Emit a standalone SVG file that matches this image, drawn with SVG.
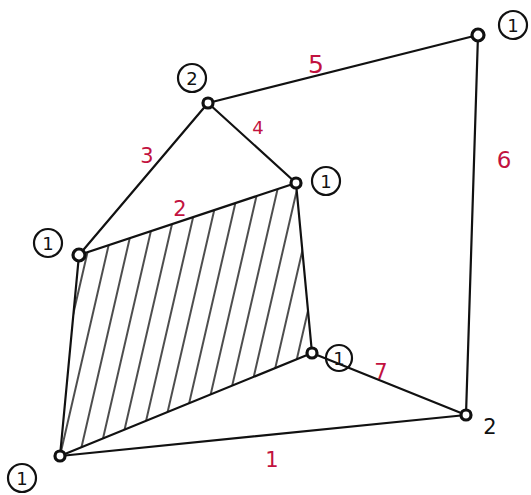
<svg xmlns="http://www.w3.org/2000/svg" width="531" height="495" viewBox="0 0 531 495">
<style>
.e{stroke:#111;stroke-width:2.2;fill:none;stroke-linecap:round}
.n{stroke:#111;stroke-width:3.2;fill:#fff}
.lc{stroke:#111;stroke-width:2.2;fill:none}
.lt{font-family:"DejaVu Sans",sans-serif;font-size:18px;fill:#111;text-anchor:middle}
.w{font-family:"DejaVu Sans",sans-serif;font-size:21px;fill:#c2123f;text-anchor:middle}
</style>
<defs>
<pattern id="hatch" width="19" height="40" patternUnits="userSpaceOnUse" patternTransform="rotate(13)">
<line x1="9" y1="0" x2="9" y2="40" stroke="#111" stroke-width="1.5"/>
</pattern>
</defs>
<rect width="531" height="495" fill="#fff"/>
<polygon points="60,456 79,255 296,183 312,353" fill="url(#hatch)"/>
<g id="connectors">
<line class="e" x1="60" y1="456" x2="79" y2="255"/>
<line class="e" x1="79" y1="255" x2="208" y2="103"/>
<line class="e" x1="208" y1="103" x2="296" y2="183"/>
<line class="e" x1="79" y1="255" x2="296" y2="183"/>
<line class="e" x1="208" y1="103" x2="478" y2="35"/>
<line class="e" x1="478" y1="35" x2="466" y2="415"/>
<line class="e" x1="60" y1="456" x2="466" y2="415"/>
<line class="e" x1="312" y1="353" x2="466" y2="415"/>
<line class="e" x1="296" y1="183" x2="312" y2="353"/>
<line class="e" x1="60" y1="456" x2="312" y2="353"/>
</g>
<g id="nA"><circle class="n" cx="60" cy="456" r="5"/><circle class="lc" cx="22" cy="478" r="14"/><text class="lt" x="22" y="485">1</text></g>
<g id="nB"><circle class="n" cx="79" cy="255" r="6"/><circle class="lc" cx="48" cy="243" r="14"/><text class="lt" x="48" y="250">1</text></g>
<g id="nC"><circle class="n" cx="208" cy="103" r="5"/><circle class="lc" cx="192" cy="78" r="14"/><text class="lt" x="192" y="85">2</text></g>
<g id="nD"><circle class="n" cx="296" cy="183" r="5"/><circle class="lc" cx="326" cy="181" r="14"/><text class="lt" x="326" y="188">1</text></g>
<g id="nE"><circle class="n" cx="478" cy="35" r="6"/><circle class="lc" cx="513" cy="25" r="14"/><text class="lt" x="513" y="32">1</text></g>
<g id="nF"><circle class="n" cx="312" cy="353" r="5"/><circle class="lc" cx="339" cy="358" r="13"/><text class="lt" x="339" y="365">1</text></g>
<g id="nG"><circle class="n" cx="466" cy="415" r="5"/><text class="lt" x="490" y="434" style="font-size:21px">2</text></g>
<g id="weights">
<text class="w" x="316" y="73" style="font-size:25px">5</text>
<text class="w" x="504" y="168" style="font-size:23px">6</text>
<text class="w" x="258" y="134" style="font-size:18px">4</text>
<text class="w" x="147" y="163">3</text>
<text class="w" x="180" y="216">2</text>
<text class="w" x="381" y="379">7</text>
<text class="w" x="272" y="467">1</text>
</g>
</svg>
